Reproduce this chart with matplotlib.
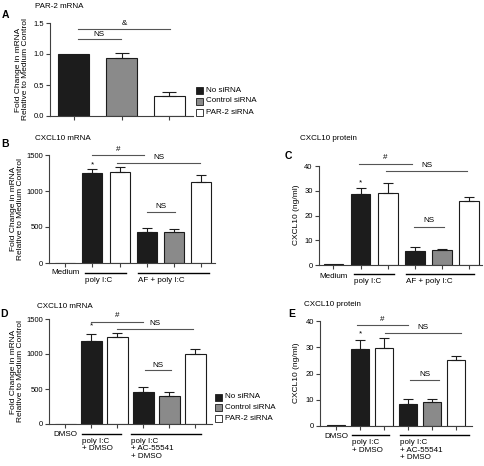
import matplotlib
matplotlib.use("Agg")
import matplotlib.pyplot as plt

plt.rcParams['font.family'] = ['Liberation Sans', 'DejaVu Sans']
plt.rcParams['font.size'] = 6

# ---------------- data ----------------
a_labels = ['No siRNA', 'Control siRNA', 'PAR-2 siRNA']
a_vals = [1.0, 0.93, 0.32]
a_err = [0.0, 0.09, 0.07]

b_vals = [0, 1255, 1270, 435, 424, 1120]
b_err = [0, 45, 60, 50, 50, 100]

c_vals = [0.3, 28.5, 29.0, 5.5, 6.0, 26.0]
c_err = [0, 2.5, 4.0, 1.7, 0.3, 1.3]

d_vals = [0, 1190, 1250, 455, 400, 1005]
d_err = [0, 100, 55, 75, 60, 60]

e_vals = [0.3, 29.4, 29.7, 8.3, 9.3, 25.0]
e_err = [0, 3.3, 4.0, 1.8, 1.1, 1.8]

bar_kind = ['black', 'black', 'white', 'black', 'grey', 'white']

a_yticks = [0.0, 0.5, 1.0, 1.5]
a_yticklabels = ['0.0', '0.5', '1.0', '1.5']
mrna_yticks = [0, 500, 1000, 1500]
prot_yticks = [0, 10, 20, 30, 40]

W, H = 484, 466
COL = {'black': '#1c1c1c', 'grey': '#8a8a8a', 'white': '#ffffff'}
AXC = '#404040'
TICKFS = 5.5
TXTFS = 5.8

fig = plt.figure(figsize=(W / 100, H / 100), dpi=100)


def px_axes(x0, ytop, x1, ybot):
    return fig.add_axes([x0 / W, 1 - ybot / H, (x1 - x0) / W, (ybot - ytop) / H])


def style(ax, xlim, ylim, yticks, yticklabels=None):
    ax.set_xlim(*xlim)
    ax.set_ylim(*ylim)
    for s in ['top', 'right']:
        ax.spines[s].set_visible(False)
    for s in ['left', 'bottom']:
        ax.spines[s].set_linewidth(0.8)
        ax.spines[s].set_color(AXC)
    ax.set_yticks(yticks)
    if yticklabels is not None:
        ax.set_yticklabels(yticklabels)
    ax.tick_params(axis='both', direction='out', length=3, width=0.8,
                   color=AXC, labelsize=TICKFS, pad=1.5)
    ax.patch.set_alpha(0)


def draw_bars(ax, vals, errs, kinds, width):
    xs = list(range(len(vals)))
    for x, v, e, k in zip(xs, vals, errs, kinds):
        ax.bar(x, v, width=width, color=COL[k], edgecolor='#1c1c1c', linewidth=0.8, zorder=2)
        if e > 0:
            ax.errorbar(x, v, yerr=[[0], [e]], fmt='none', ecolor='#1c1c1c',
                        elinewidth=0.8, capsize=3.5, capthick=0.8, zorder=3)
    ax.set_xticks(xs)
    ax.set_xticklabels([])


def sig(ax, x0, x1, y, ylab, txt, fs=TXTFS):
    ax.plot([x0, x1], [y, y], color='#555555', lw=0.8, clip_on=False, zorder=4)
    ax.text((x0 + x1) / 2, ylab, txt, ha='center', va='center', fontsize=fs, clip_on=False)


def group(ax, axh, x0, x1, text, dy_line, dy_text):
    tr = ax.get_xaxis_transform()
    ax.plot([x0, x1], [-dy_line / axh] * 2, color='black', lw=1.0, transform=tr, clip_on=False)
    ax.text(x0, -dy_text / axh, text, ha='left', va='top', fontsize=TXTFS, transform=tr,
            linespacing=1.1)


def legend(x_sq, y0, dy):
    for i, (lab, k) in enumerate(zip(a_labels, ['black', 'grey', 'white'])):
        yc = y0 + i * dy
        fig.patches.append(plt.Rectangle((x_sq / W, 1 - (yc + 3.5) / H), 7 / W, 7 / H,
                                         transform=fig.transFigure, facecolor=COL[k],
                                         edgecolor='#1c1c1c', linewidth=0.6))
        fig.text((x_sq + 10) / W, 1 - yc / H, lab, ha='left', va='center', fontsize=TXTFS)


# ---------------- Panel A ----------------
axA = px_axes(50, 23, 193, 116)
style(axA, (-0.5, 2.5), (0, 1.5), a_yticks, a_yticklabels)
for i, (v, e, k) in enumerate(zip(a_vals, a_err, ['black', 'grey', 'white'])):
    axA.bar(i, v, width=0.65, color=COL[k], edgecolor='#1c1c1c', linewidth=0.8, zorder=2)
    if e > 0:
        axA.errorbar(i, v, yerr=[[0], [e]], fmt='none', ecolor='#1c1c1c',
                     elinewidth=0.8, capsize=5, capthick=0.8, zorder=3)
axA.set_xticks([0, 1, 2])
axA.set_xticklabels([])
sig(axA, 0.08, 2.02, 1.40, 1.49, '&')
sig(axA, 0.08, 0.98, 1.24, 1.32, 'NS')
legend(196, 90, 11)

# ---------------- Panel B ----------------
axB = px_axes(49, 155, 215, 263)
style(axB, (-0.59, 5.5), (0, 1500), mrna_yticks)
draw_bars(axB, b_vals, b_err, bar_kind, 0.74)
axB.text(1, 1365, '*', ha='center', va='center', fontsize=TXTFS)
sig(axB, 1.0, 2.9, 1495, 1580, '#')
sig(axB, 1.9, 4.95, 1385, 1460, 'NS')
sig(axB, 3.0, 4.02, 712, 785, 'NS')
hB = 108
axB.text(0, -10 / hB, 'Medium', ha='center', va='center', fontsize=TXTFS,
         transform=axB.get_xaxis_transform())
group(axB, hB, 0.74, 2.24, 'poly I:C', 10, 14)
group(axB, hB, 2.68, 5.29, 'AF + poly I:C', 10, 14)

# ---------------- Panel C ----------------
axC = px_axes(319, 166, 482, 265)
style(axC, (-0.53, 5.47), (0, 40), prot_yticks)
draw_bars(axC, c_vals, c_err, bar_kind, 0.72)
axC.text(1, 33.0, '*', ha='center', va='center', fontsize=TXTFS)
sig(axC, 0.95, 2.9, 40.8, 43.4, '#')
sig(axC, 1.95, 4.92, 38.0, 40.4, 'NS')
sig(axC, 2.97, 4.07, 15.4, 17.8, 'NS')
hC = 99
axC.text(0, -11 / hC, 'Medium', ha='center', va='center', fontsize=TXTFS,
         transform=axC.get_xaxis_transform())
group(axC, hC, 0.76, 2.23, 'poly I:C', 9, 13)
group(axC, hC, 2.67, 5.17, 'AF + poly I:C', 9, 13)

# ---------------- Panel D ----------------
axD = px_axes(49, 319, 212, 424)
style(axD, (-0.63, 5.64), (0, 1500), mrna_yticks)
draw_bars(axD, d_vals, d_err, bar_kind, 0.8)
axD.text(1, 1400, '*', ha='center', va='center', fontsize=TXTFS)
sig(axD, 0.99, 2.98, 1462, 1545, '#')
sig(axD, 1.98, 4.9, 1356, 1435, 'NS')
sig(axD, 3.07, 4.07, 767, 840, 'NS')
hD = 105
axD.text(0, -11 / hD, 'DMSO', ha='center', va='center', fontsize=TXTFS,
         transform=axD.get_xaxis_transform())
group(axD, hD, 0.64, 2.14, 'poly I:C\n+ DMSO', 10, 14)
group(axD, hD, 2.53, 5.2, 'poly I:C\n+ AC-55541\n+ DMSO', 10, 14)
legend(215, 397, 10.5)

# ---------------- Panel E ----------------
axE = px_axes(320, 321, 472, 426)
style(axE, (-0.67, 5.67), (0, 40), prot_yticks)
draw_bars(axE, e_vals, e_err, bar_kind, 0.72)
axE.text(1, 35.0, '*', ha='center', va='center', fontsize=TXTFS)
sig(axE, 0.88, 3.0, 38.6, 40.7, '#')
sig(axE, 2.04, 5.2, 35.6, 37.7, 'NS')
sig(axE, 3.1, 4.3, 17.5, 19.7, 'NS')
hE = 105
axE.text(0, -11 / hE, 'DMSO', ha='center', va='center', fontsize=TXTFS,
         transform=axE.get_xaxis_transform())
group(axE, hE, 0.67, 2.2, 'poly I:C\n+ DMSO', 9, 13)
group(axE, hE, 2.67, 5.54, 'poly I:C\n+ AC-55541\n+ DMSO', 9, 13)

# ---------------- labels, titles ----------------
ylab_mrna = 'Fold Change in mRNA\nRelative to Medium Control'
for xc, yc in [(22, 69.5), (17, 209), (17, 371.5)]:
    fig.text(xc / W, 1 - yc / H, ylab_mrna, rotation=90, ha='center', va='center',
             fontsize=6, linespacing=1.1)
for xc, yc in [(296, 215), (297, 373)]:
    fig.text(xc / W, 1 - yc / H, 'CXCL10 (ng/ml)', rotation=90, ha='center', va='center',
             fontsize=6)

fig.text(35 / W, 1 - 6 / H, 'PAR-2 mRNA', ha='left', va='center', fontsize=TXTFS)
fig.text(35 / W, 1 - 138 / H, 'CXCL10 mRNA', ha='left', va='center', fontsize=TXTFS)
fig.text(300 / W, 1 - 138 / H, 'CXCL10 protein', ha='left', va='center', fontsize=TXTFS)
fig.text(37 / W, 1 - 306 / H, 'CXCL10 mRNA', ha='left', va='center', fontsize=TXTFS)
fig.text(304 / W, 1 - 305 / H, 'CXCL10 protein', ha='left', va='center', fontsize=TXTFS)

for lab, x, y in [('A', 5, 15), ('B', 5, 144), ('C', 288, 156), ('D', 4, 314), ('E', 292, 314)]:
    fig.text(x / W, 1 - y / H, lab, ha='center', va='center', fontsize=7.5, fontweight='bold')

fig.savefig('out.png', dpi=100)
